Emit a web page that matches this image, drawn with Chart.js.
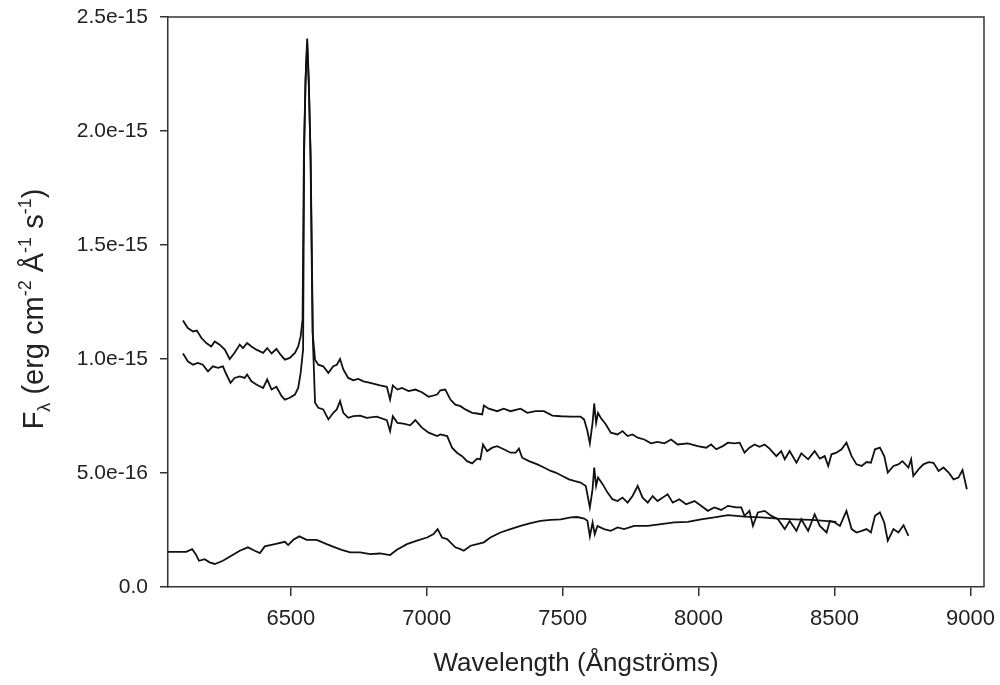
<!DOCTYPE html>
<html>
<head>
<meta charset="utf-8">
<title>Spectra</title>
<script src="https://cdn.jsdelivr.net/npm/chart.js@4.4.1/dist/chart.umd.min.js"></script>
<style>
  html, body { margin: 0; padding: 0; background: #fff; }
  #wrap { position: relative; width: 1000px; height: 685px; }
</style>
</head>
<body>
<div id="wrap"><canvas id="chart"></canvas></div>
<script>
// Spectra: [wavelength (Angstrom), flux in units of 1e-16 erg cm^-2 A^-1 s^-1]
const spectrumTop = [
    [6103,11.69],[6121,11.36],[6140,11.21],[6154,11.25],[6171,10.92],[6189,10.70],[6207,10.55],[6220,10.77],
    [6238,10.63],[6257,10.41],[6275,10.00],[6293,10.27],[6312,10.63],[6324,10.48],[6339,10.70],[6355,10.55],
    [6373,10.41],[6398,10.27],[6413,10.48],[6429,10.24],[6447,10.44],[6462,10.19],[6478,9.97],[6496,10.05],
    [6515,10.27],[6527,10.55],[6536,10.99],[6543,11.72],[6548,19.16],[6554,22.22],[6560,24.06],[6566,22.22],
    [6572,19.16],[6580,11.15],[6589,9.97],[6601,9.75],[6619,9.68],[6638,9.39],[6656,9.68],[6669,9.75],
    [6681,10.00],[6693,9.54],[6711,9.17],[6730,9.07],[6748,9.13],[6767,9.02],[6792,8.95],[6828,8.84],
    [6853,8.78],[6865,8.22],[6875,8.84],[6892,8.66],[6909,8.73],[6933,8.59],[6958,8.66],[6982,8.54],
    [7007,8.34],[7038,8.44],[7050,8.63],[7068,8.66],[7087,8.22],[7105,8.00],[7124,7.93],[7142,7.79],
    [7167,7.64],[7185,7.61],[7204,7.57],[7210,7.96],[7228,7.82],[7259,7.71],[7283,7.82],[7308,7.71],
    [7345,7.82],[7370,7.64],[7400,7.71],[7431,7.71],[7462,7.52],[7493,7.49],[7530,7.47],[7566,7.47],
    [7579,7.35],[7591,6.84],[7600,6.30],[7610,7.20],[7616,8.05],[7623,7.20],[7630,7.64],[7640,7.42],
    [7659,7.13],[7677,6.77],[7702,6.69],[7720,6.84],[7739,6.62],[7757,6.69],[7776,6.55],[7800,6.47],
    [7825,6.30],[7849,6.36],[7874,6.30],[7899,6.47],[7923,6.25],[7960,6.30],[7997,6.18],[8028,6.11],
    [8046,6.25],[8065,6.04],[8089,6.18],[8108,6.33],[8132,6.30],[8151,6.33],[8169,5.89],[8187,6.11],
    [8206,6.25],[8224,6.15],[8243,6.25],[8261,6.07],[8286,5.74],[8304,5.96],[8317,5.60],[8335,5.96],
    [8360,5.45],[8378,5.86],[8403,5.60],[8427,5.96],[8446,5.63],[8464,5.74],[8477,5.31],[8489,5.82],
    [8507,5.89],[8526,6.04],[8544,6.33],[8563,5.74],[8581,5.38],[8600,5.31],[8618,5.48],[8634,5.45],
    [8649,6.04],[8667,6.11],[8683,5.74],[8696,5.02],[8717,5.31],[8735,5.38],[8750,5.52],[8772,5.24],
    [8782,5.60],[8790,4.87],[8809,5.16],[8827,5.38],[8846,5.48],[8864,5.45],[8883,5.09],[8901,5.24],
    [8920,5.02],[8938,4.72],[8956,4.80],[8971,5.13],[8987,4.29]
];

const spectrumMiddle = [
    [6103,10.24],[6121,9.90],[6140,9.75],[6158,9.83],[6176,9.75],[6195,9.46],[6213,9.68],[6232,9.61],
    [6250,9.68],[6263,9.32],[6278,8.95],[6293,9.17],[6312,9.24],[6330,9.17],[6339,9.32],[6355,9.02],
    [6373,8.88],[6398,8.73],[6413,9.10],[6429,8.66],[6447,8.78],[6466,8.37],[6478,8.22],[6496,8.30],
    [6515,8.44],[6527,8.73],[6536,9.39],[6545,10.41],[6549,19.16],[6554,22.22],[6560,23.88],[6566,22.00],
    [6573,18.72],[6581,10.85],[6589,8.08],[6601,7.86],[6619,7.79],[6638,7.35],[6656,7.64],[6669,7.79],
    [6681,8.15],[6693,7.64],[6711,7.42],[6730,7.49],[6755,7.52],[6779,7.42],[6816,7.47],[6853,7.32],
    [6865,6.84],[6875,7.49],[6892,7.20],[6914,7.17],[6939,7.09],[6958,7.32],[6982,6.99],[7007,6.77],
    [7038,6.62],[7050,6.69],[7075,6.62],[7093,6.11],[7111,5.89],[7130,5.74],[7148,5.52],[7167,5.42],
    [7185,5.63],[7197,5.60],[7207,6.25],[7222,5.96],[7241,6.11],[7259,6.18],[7283,6.04],[7308,5.89],
    [7327,5.89],[7339,6.07],[7351,5.67],[7376,5.52],[7407,5.38],[7431,5.24],[7456,5.09],[7474,5.02],
    [7499,4.87],[7523,4.72],[7542,4.65],[7566,4.58],[7585,4.43],[7600,3.49],[7610,4.29],[7616,5.24],
    [7623,4.43],[7630,4.80],[7647,4.51],[7665,4.14],[7683,3.85],[7702,3.77],[7720,3.92],[7739,3.70],
    [7757,3.99],[7776,4.43],[7794,3.92],[7813,3.70],[7831,3.99],[7849,3.77],[7868,3.92],[7886,4.07],
    [7905,3.70],[7929,3.85],[7954,3.63],[7985,3.77],[8009,3.56],[8034,3.34],[8058,3.49],[8083,3.38],
    [8108,3.56],[8138,3.49],[8157,3.49],[8169,3.12],[8187,3.34],[8200,2.68],[8218,3.27],[8243,3.34],
    [8268,3.12],[8292,2.97],[8317,2.54],[8335,2.90],[8360,2.46],[8378,2.97],[8403,2.46],[8427,3.19],
    [8446,2.68],[8471,2.39],[8483,2.90],[8501,2.83],[8520,2.68],[8544,3.34],[8563,2.54],[8581,2.39],
    [8600,2.46],[8618,2.54],[8634,2.39],[8649,3.12],[8667,3.27],[8683,2.83],[8696,2.03],[8717,2.54],
    [8735,2.39],[8754,2.71],[8772,2.24]
];

const spectrumBottom = [
    [6048,1.54],[6090,1.54],[6115,1.54],[6137,1.66],[6150,1.44],[6162,1.15],[6183,1.22],[6201,1.08],
    [6220,1.01],[6250,1.15],[6281,1.37],[6312,1.59],[6342,1.74],[6367,1.59],[6386,1.49],[6404,1.78],
    [6441,1.88],[6478,1.98],[6490,1.84],[6509,2.07],[6531,2.22],[6558,2.07],[6595,2.07],[6632,1.88],
    [6662,1.74],[6687,1.63],[6718,1.52],[6755,1.52],[6792,1.44],[6828,1.47],[6865,1.40],[6890,1.63],
    [6927,1.88],[6964,2.03],[7001,2.17],[7025,2.32],[7040,2.54],[7056,2.17],[7075,2.10],[7087,1.96],
    [7105,1.74],[7124,1.66],[7136,1.59],[7161,1.81],[7185,1.88],[7210,1.96],[7234,2.17],[7271,2.39],
    [7308,2.54],[7345,2.68],[7382,2.80],[7419,2.90],[7456,2.94],[7493,2.97],[7530,3.05],[7554,3.07],
    [7579,3.00],[7591,2.90],[7600,2.22],[7610,2.83],[7618,2.32],[7628,2.68],[7652,2.54],[7677,2.46],
    [7702,2.61],[7726,2.54],[7763,2.68],[7813,2.68],[7862,2.76],[7911,2.83],[7960,2.86],[8009,2.97],
    [8058,3.05],[8108,3.15],[8169,3.09],[8231,3.05],[8292,3.00],[8354,2.97],[8415,2.94],[8464,2.90],
    [8507,2.86]
];

const xTicks = [6500, 7000, 7500, 8000, 8500, 9000];
const yTicks = [0, 5, 10, 15, 20, 25];
const yTickLabels = ['0.0', '5.0e-16', '1.0e-15', '1.5e-15', '2.0e-15', '2.5e-15'];

const xTitle = 'Wavelength (Ångströms)';
// y title pieces: [text, kind] where kind is 'n' normal, 'sub' or 'sup'
const yTitleParts = [['F', 'n'], ['λ', 'sub'], [' (erg cm', 'n'], ['-2', 'sup'], [' Å', 'n'],
                     ['-1', 'sup'], [' s', 'n'], ['-1', 'sup'], [')', 'n']];

const FONT = '"Liberation Sans", Arial, Helvetica, sans-serif';
const AXIS_COLOR = '#333';
const TEXT_COLOR = '#222';

function toPoints(arr) {
    return arr.map(([x, y]) => ({ x, y }));
}

function lineDataset(arr) {
    return {
        data: toPoints(arr),
        borderColor: '#111',
        borderWidth: 1.8,
        pointRadius: 0,
        tension: 0,
        fill: false
    };
}

// top/right sides of the box plus the rotated y title with sub/superscripts
const framePlugin = {
    id: 'frame',
    afterDraw(chart) {
        const { ctx, chartArea: a } = chart;
        ctx.save();
        ctx.strokeStyle = AXIS_COLOR;
        ctx.lineWidth = 1.5;
        ctx.beginPath();
        ctx.moveTo(a.left, a.top);
        ctx.lineTo(a.right, a.top);
        ctx.lineTo(a.right, a.bottom);
        ctx.stroke();

        const big = 29, small = 18;
        ctx.fillStyle = TEXT_COLOR;
        ctx.textBaseline = 'alphabetic';
        let total = 0;
        yTitleParts.forEach(([t, kind]) => {
            ctx.font = `${kind === 'n' ? big : small}px ${FONT}`;
            total += ctx.measureText(t).width;
        });
        ctx.translate(43, 309);
        ctx.rotate(-Math.PI / 2);
        let x = -total / 2;
        yTitleParts.forEach(([t, kind]) => {
            ctx.font = `${kind === 'n' ? big : small}px ${FONT}`;
            const dy = kind === 'sub' ? 7 : kind === 'sup' ? -12 : 0;
            ctx.fillText(t, x, dy);
            x += ctx.measureText(t).width;
        });
        ctx.restore();
    }
};

new Chart(document.getElementById('chart'), {
    type: 'line',
    data: {
        datasets: [lineDataset(spectrumTop), lineDataset(spectrumMiddle), lineDataset(spectrumBottom)]
    },
    options: {
        responsive: true,
        maintainAspectRatio: false,
        animation: false,
        layout: { padding: { top: 17, right: 16, left: 0, bottom: 0 } },
        plugins: {
            legend: { display: false },
            tooltip: { enabled: false }
        },
        scales: {
            x: {
                type: 'linear',
                min: 6048,
                max: 9050,
                afterBuildTicks: (scale) => { scale.ticks = xTicks.map(v => ({ value: v })); },
                afterFit: (scale) => {
                    scale.height = 98;
                    scale.paddingLeft = 0;
                    scale.paddingRight = 0;
                },
                grid: { drawOnChartArea: false, drawTicks: true, tickLength: 9, color: AXIS_COLOR, lineWidth: 1.5 },
                border: { display: true, color: AXIS_COLOR, width: 1.5 },
                ticks: {
                    color: TEXT_COLOR,
                    font: { family: FONT, size: 22 },
                    padding: 10,
                    maxRotation: 0,
                    callback: (v) => String(v)
                },
                title: {
                    display: true,
                    text: xTitle,
                    color: TEXT_COLOR,
                    font: { family: FONT, size: 26 },
                    padding: { top: 0, bottom: 6 }
                }
            },
            y: {
                type: 'linear',
                min: 0,
                max: 25,
                afterBuildTicks: (scale) => { scale.ticks = yTicks.map(v => ({ value: v })); },
                afterFit: (scale) => {
                    scale.width = 168;
                    scale.paddingTop = 0;
                    scale.paddingBottom = 0;
                },
                grid: { drawOnChartArea: false, drawTicks: true, tickLength: 8, color: AXIS_COLOR, lineWidth: 1.5 },
                border: { display: true, color: AXIS_COLOR, width: 1.5 },
                ticks: {
                    color: TEXT_COLOR,
                    font: { family: FONT, size: 21 },
                    padding: 12,
                    callback: (v) => {
                        const i = yTicks.indexOf(v);
                        return i >= 0 ? yTickLabels[i] : '';
                    }
                }
            }
        }
    },
    plugins: [framePlugin]
});
</script>
</body>
</html>
